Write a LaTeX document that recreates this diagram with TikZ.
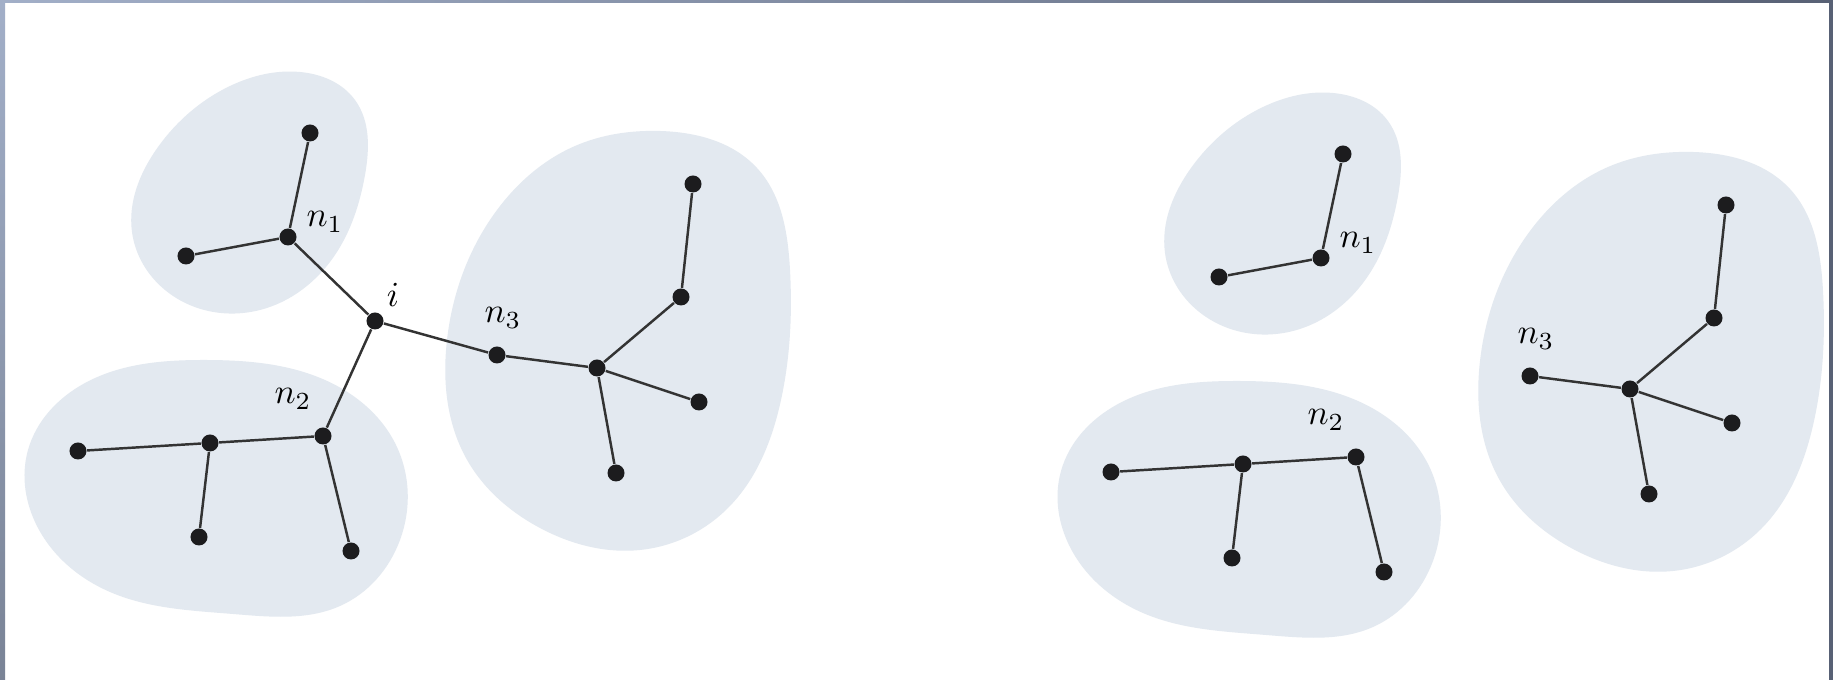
\documentclass[tikz,border=0pt]{standalone}
\usepackage{xcolor}
\definecolor{blobFill}{HTML}{E3E9F0}
\definecolor{frameLight}{HTML}{A2AFC8}
\definecolor{frameDark}{HTML}{586175}
\definecolor{inkDark}{HTML}{1C1C1E}
\usetikzlibrary{positioning, hobby}

% one picture of the three clusters (name prefix keeps the two copies apart)
\newcommand{\clusterSet}{%
    % shaded regions
    \fill[blob] plot[closed hobby] coordinates {(300,72) (355,100) (365,175) (335,255) (260,310) (165,290) (132,232) (158,147) (230,86)};
    \fill[blob] plot[closed hobby] coordinates {(205,360) (325,380) (396,445) (400,540) (340,606) (233,614) (110,592) (38,528) (28,450) (85,383)};
    \fill[blob] plot[closed hobby] coordinates {(660,131) (757,168) (790,270) (781,400) (728,508) (640,550) (540,528) (466,458) (447,340) (497,210) (575,146)};
    % cluster 1
    \node[dot] (n1) at (288,237) {};
    \node[dot] (n1top) at (310,133) {};
    \node[dot] (n1left) at (186,256) {};
    \node[lbl] (n1lab) at (325,222) {$n_1$};
    % cluster 2
    \node[dot] (n2) at (323,436) {};
    \node[dot] (hub2) at (210,443) {};
    \node[dot] (n2left) at (78,451) {};
    \node[dot] (n2lowA) at (199,537) {};
    \node[dot] (n2lowB) at (351,551) {};
    \node[lbl] (n2lab) at (293,399) {$n_2$};
    % cluster 3
    \node[dot] (n3) at (497,355) {};
    \node[dot] (hub3) at (597,368) {};
    \node[dot] (mid3) at (681,297) {};
    \node[dot] (n3top) at (693,184) {};
    \node[dot] (n3right) at (699,402) {};
    \node[dot] (n3low) at (616,473) {};
    \node[lbl] (n3lab) at (503,318) {$n_3$};
    % links
    \draw[link] (n1) -- (n1top) (n1) -- (n1left);
    \draw[link] (n2) -- (hub2) -- (n2left) (hub2) -- (n2lowA) (n2) -- (n2lowB);
    \draw[link] (n3) -- (hub3) -- (mid3) -- (n3top) (hub3) -- (n3right) (hub3) -- (n3low);
}

\begin{document}
\begin{tikzpicture}[
    x=0.01cm, y=-0.01cm,
    blob/.style={fill=blobFill},
    dot/.style={circle, fill=inkDark, inner sep=0pt, minimum size=0.17cm},
    link/.style={draw=black!80, line width=0.7pt},
    lbl/.style={font=\normalsize, inner sep=0pt}
]
\useasboundingbox (0,0) rectangle (1833,680);

% slide frame
\fill[white] (0,0) rectangle (1833,680);
\shade[left color=frameLight, right color=frameDark] (0,0) rectangle (1833,3);
\shade[top color=frameLight, bottom color=frameLight!75!black] (0,0) rectangle (5,680);
\fill[frameDark] (1829,0) rectangle (1833,680);

% left: node i joins the three clusters
\begin{scope}[name prefix=L-]
    \clusterSet
    \node[dot] (i) at (375,321) {};
    \node[lbl] (ilab) at (393,295) {$i$};
    \draw[link] (i) -- (n1) (i) -- (n2) (i) -- (n3);
\end{scope}

% right: the same clusters without i
\begin{scope}[shift={(1033,21)}, name prefix=R-]
    \clusterSet
\end{scope}

\end{tikzpicture}
\end{document}
